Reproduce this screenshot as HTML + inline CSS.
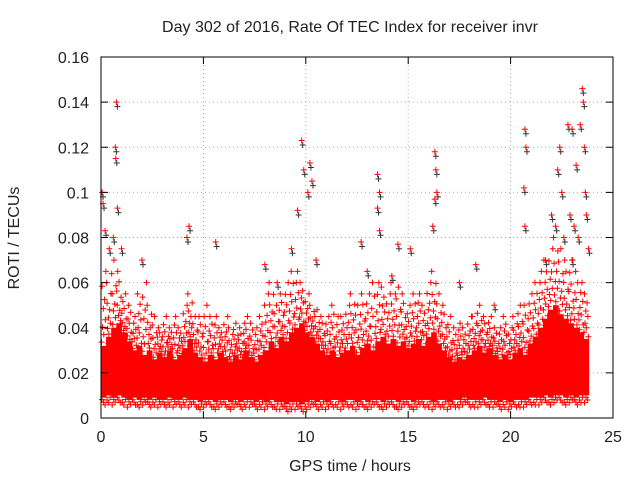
<!DOCTYPE html>
<html><head><meta charset="utf-8"><style>
body{margin:0;background:#fff}
svg text{font-family:"Liberation Sans",sans-serif;font-size:16px;fill:#222}
</style></head><body>
<svg id="chart" width="640" height="480" xmlns="http://www.w3.org/2000/svg">
<text x="350" y="32" text-anchor="middle">Day 302 of 2016, Rate Of TEC Index for receiver invr</text>
<text x="350" y="471" text-anchor="middle">GPS time / hours</text>
<text transform="translate(19,238) rotate(-90)" text-anchor="middle">ROTI / TECUs</text>
<g id="grid"></g><g id="marks"></g><g id="ticks"></g>
<rect x="101" y="57" width="512" height="361" fill="none" stroke="#000"/>
</svg>
<script>
const xTicks=[0,5,10,15,20,25];
const yTicks=[0,0.02,0.04,0.06,0.08,0.1,0.12,0.14,0.16];
const yTickLabels=["0","0.02","0.04","0.06","0.08","0.1","0.12","0.14","0.16"];
const binStart=0, binWidth=0.248;
const coreHigh=[0.032,0.036,0.04,0.042,0.038,0.034,0.03,0.032,0.028,0.03,0.026,0.029,0.027,0.03,0.026,0.028,0.031,0.035,0.029,0.027,0.025,0.028,0.026,0.029,0.027,0.025,0.028,0.026,0.03,0.027,0.025,0.028,0.03,0.034,0.031,0.036,0.034,0.038,0.04,0.042,0.038,0.036,0.033,0.03,0.028,0.03,0.027,0.029,0.03,0.032,0.028,0.031,0.033,0.03,0.034,0.036,0.033,0.035,0.032,0.034,0.031,0.033,0.035,0.032,0.036,0.038,0.033,0.03,0.027,0.025,0.027,0.026,0.028,0.03,0.032,0.029,0.031,0.028,0.026,0.028,0.026,0.029,0.031,0.028,0.033,0.036,0.04,0.044,0.048,0.05,0.046,0.044,0.042,0.04,0.038,0.035];
const scatterHigh=[0.065,0.06,0.07,0.065,0.055,0.05,0.045,0.055,0.06,0.05,0.045,0.04,0.045,0.04,0.045,0.04,0.05,0.055,0.045,0.045,0.05,0.045,0.045,0.04,0.045,0.04,0.042,0.04,0.045,0.042,0.04,0.045,0.055,0.06,0.05,0.055,0.06,0.065,0.065,0.06,0.055,0.05,0.048,0.045,0.045,0.05,0.045,0.045,0.05,0.055,0.05,0.055,0.055,0.06,0.06,0.058,0.055,0.06,0.058,0.055,0.05,0.055,0.055,0.05,0.06,0.065,0.055,0.05,0.045,0.04,0.042,0.04,0.045,0.045,0.05,0.045,0.045,0.04,0.04,0.045,0.04,0.045,0.05,0.05,0.055,0.06,0.065,0.07,0.075,0.08,0.075,0.07,0.07,0.065,0.06,0.055];
const coreLow=[0.009,0.01,0.009,0.01,0.009,0.008,0.009,0.008,0.009,0.008,0.009,0.008,0.008,0.009,0.008,0.008,0.009,0.008,0.008,0.007,0.008,0.008,0.007,0.008,0.008,0.007,0.008,0.007,0.008,0.008,0.007,0.008,0.007,0.008,0.007,0.007,0.006,0.007,0.007,0.006,0.007,0.008,0.007,0.008,0.007,0.008,0.008,0.007,0.008,0.008,0.007,0.008,0.007,0.008,0.008,0.007,0.008,0.008,0.007,0.008,0.008,0.007,0.008,0.008,0.008,0.007,0.008,0.008,0.007,0.008,0.008,0.009,0.008,0.008,0.008,0.009,0.008,0.008,0.007,0.008,0.007,0.008,0.008,0.008,0.009,0.009,0.009,0.01,0.009,0.01,0.01,0.009,0.01,0.009,0.01,0.01];
const spikeHours=[0.75,0.7,0.72,0.8,0.05,0.1,0.2,4.3,4.2,5.6,9.6,9.8,9.9,10.2,10.3,10.1,12.7,13.5,13.6,13.5,13.6,14.5,15.1,16.3,16.35,16.4,16.3,18.3,20.7,20.75,20.65,20.7,22.0,22.3,22.4,22.5,22.8,23.0,23.2,23.5,23.55,23.6,23.65,23.7,23.4,22.9,23.1,23.3,22.6,22.2,23.0,23.8,21.7,13.0,14.2,10.5,9.3,8.0,8.6,2.0,1.0,0.4,0.6,16.2,17.5,19.2];
const spikeRoti=[0.14,0.12,0.115,0.093,0.1,0.095,0.083,0.085,0.08,0.078,0.092,0.123,0.11,0.113,0.105,0.1,0.078,0.108,0.1,0.093,0.083,0.077,0.075,0.118,0.11,0.1,0.097,0.068,0.128,0.12,0.102,0.085,0.09,0.11,0.12,0.1,0.13,0.128,0.112,0.146,0.14,0.12,0.1,0.09,0.13,0.09,0.085,0.08,0.08,0.085,0.07,0.075,0.07,0.065,0.063,0.07,0.075,0.068,0.06,0.07,0.075,0.075,0.08,0.085,0.06,0.05];
const NS="http://www.w3.org/2000/svg";
const X=h=>101+h*512/25, Y=v=>418-v*361/0.16;
function el(t,a,p){const e=document.createElementNS(NS,t);for(const k in a)e.setAttribute(k,a[k]);document.getElementById(p).appendChild(e);return e;}
xTicks.forEach(t=>{
 if(t>0&&t<25){const g=el('line',{x1:X(t),x2:X(t),y1:57,y2:418,stroke:'#aaa','stroke-dasharray':'1,3'},'grid');
 
 }
 el('line',{x1:X(t),x2:X(t),y1:418,y2:411,stroke:'#000'},'ticks');
 el('line',{x1:X(t),x2:X(t),y1:57,y2:64,stroke:'#000'},'ticks');
 const l=el('text',{x:X(t),y:442,'text-anchor':'middle'},'ticks');l.textContent=t;
 
 
});
yTicks.forEach((t,i)=>{
 if(i>0&&i<yTicks.length-1){const g=el('line',{x1:101,x2:613,y1:Y(t),y2:Y(t),stroke:'#aaa','stroke-dasharray':'1,3'},'grid');
 
 }
 el('line',{x1:101,x2:108,y1:Y(t),y2:Y(t),stroke:'#000'},'ticks');
 el('line',{x1:606,x2:613,y1:Y(t),y2:Y(t),stroke:'#000'},'ticks');
 const l=el('text',{x:89,y:Y(t)+6,'text-anchor':'end'},'ticks');l.textContent=yTickLabels[i];
 
 
});
function cross(h,v,c){const x=X(h),y=Y(v);const p=el('path',{d:`M${x-3},${y}h6M${x},${y-3}v6`,stroke:c,'stroke-width':1},'marks');
 
 }
const w=512/25*binWidth;
const jx=[0.1,0.55,0.3,0.85,0.45,0.7,0.2,0.95];
const jf=[0.05,0.15,0.25,0.35,0.5,0.62,0.8,1.0];
coreHigh.forEach((hi,i)=>{
 const h=binStart+i*binWidth;
 const r=el('rect',{x:X(h),y:Y(hi),width:w+0.6,height:Y(coreLow[i])-Y(hi),fill:'#f00'},'marks');
 
 
 const span=scatterHigh[i]-hi;
 jf.forEach((f,k)=>cross(h+binWidth*jx[(k+i)%8],hi+span*f,'#f00'));
 [0.2,0.5,0.8].forEach((f,k)=>cross(h+binWidth*f,coreLow[i]-0.0008-0.0012*((i+k)%3),'#f00'));
 cross(h+binWidth*0.5,hi-0.003,'#f00');
});
spikeHours.forEach((h,i)=>{cross(h+0.05,spikeRoti[i]-0.002,'#333');cross(h,spikeRoti[i],'#f00');});
</script>
</body></html>
